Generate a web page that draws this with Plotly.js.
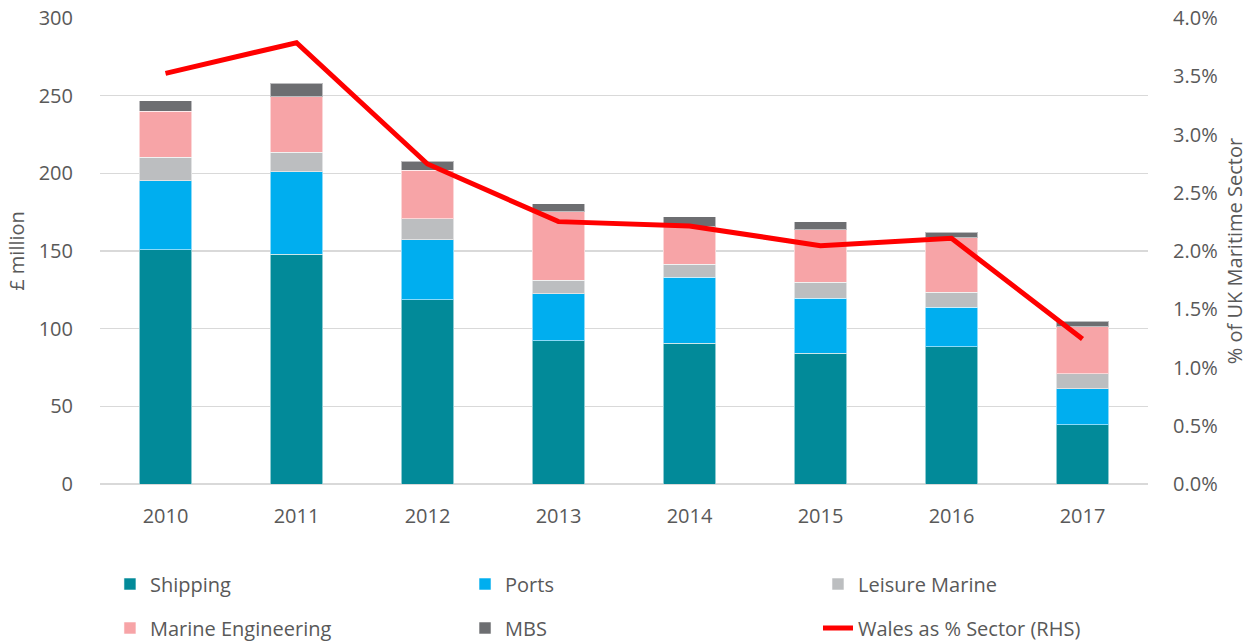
<!DOCTYPE html>
<html>
<head>
<meta charset="utf-8">
<script src="https://cdn.plot.ly/plotly-3.0.1.min.js"></script>
<style>html,body{margin:0;padding:0;background:#fff;}#chart{width:1255px;height:643px;}</style>
</head>
<body>
<div id="chart"></div>
<script>
const years = ["2010","2011","2012","2013","2014","2015","2016","2017"];
const shipping = [150.8, 147.9, 118.5, 92.1, 90.6, 84.1, 88.4, 38.0];
const ports = [44.5, 53.2, 38.8, 30.4, 42.5, 35.6, 25.5, 23.4];
const leisureMarine = [15.0, 12.4, 13.5, 8.6, 8.3, 10.1, 9.7, 9.6];
const marineEngineering = [29.6, 35.8, 31.1, 44.2, 24.2, 33.9, 35.0, 30.3];
const mbs = [6.9, 8.7, 6.0, 5.0, 6.3, 5.2, 3.6, 3.6];
const walesPct = [0.03525, 0.03788, 0.02747, 0.02252, 0.02215, 0.02046, 0.02109, 0.01245];

const FONT = "Open Sans, sans-serif";
const GREY = "#595959";
const barLine = {color: "rgba(255,255,255,0.55)", width: 1};

function barTrace(name, vals, color, legend) {
  return {type: "bar", name: name, x: years, y: vals, legend: legend,
          marker: {color: color, line: barLine}, hoverinfo: "skip"};
}

const traces = [
  barTrace("Shipping", shipping, "#028A99", "legend"),
  barTrace("Ports", ports, "#00AEEF", "legend2"),
  barTrace("Leisure Marine", leisureMarine, "#BCBEC0", "legend3"),
  barTrace("Marine Engineering", marineEngineering, "#F7A4A7", "legend4"),
  barTrace("MBS", mbs, "#6D6E71", "legend5"),
  {type: "scatter", mode: "lines", name: "Wales as % Sector (RHS)", x: years, y: walesPct,
   yaxis: "y2", legend: "legend6", line: {color: "#FF0000", width: 5}, hoverinfo: "skip"}
];

function leg(x, y) {
  return {orientation: "h", xanchor: "left", yanchor: "middle", x: x, y: y,
          bgcolor: "rgba(0,0,0,0)", font: {family: FONT, size: 20, color: GREY}};
}
const row1 = -0.2146, row2 = -0.309;
const col1 = 0.0095, col2 = 0.3483, col3 = 0.6851;

const layout = {
  width: 1255, height: 643,
  margin: {l: 100, r: 107, t: 18, b: 159, autoexpand: false},
  paper_bgcolor: "#fff", plot_bgcolor: "#fff",
  barmode: "stack", bargap: 0.6,
  font: {family: FONT, size: 20, color: GREY},
  showlegend: true,
  legend: leg(col1, row1), legend2: leg(col2, row1), legend3: leg(col3, row1),
  legend4: leg(col1, row2), legend5: leg(col2, row2), legend6: leg(col3, row2),
  xaxis: {type: "category", showgrid: false, zeroline: false, showline: false,
          ticks: "outside", ticklen: 14, tickcolor: "rgba(0,0,0,0)",
          tickfont: {family: FONT, size: 20, color: GREY}},
  yaxis: {range: [0, 300], dtick: 50, showgrid: true, gridcolor: "#D9D9D9", gridwidth: 1.5,
          zeroline: true, zerolinecolor: "#D9D9D9", zerolinewidth: 1.5, showline: false,
          ticks: "outside", ticklen: 22, tickcolor: "rgba(0,0,0,0)",
          tickfont: {family: FONT, size: 20, color: GREY},
          title: {text: "£ million", font: {family: FONT, size: 20, color: GREY}, standoff: 8}},
  yaxis2: {overlaying: "y", side: "right", range: [0, 0.04], dtick: 0.005, tickformat: ".1%",
           showgrid: false, zeroline: false, showline: false,
           ticks: "outside", ticklen: 20, tickcolor: "rgba(0,0,0,0)",
           tickfont: {family: FONT, size: 20, color: GREY},
           title: {text: "% of UK Maritime Sector", font: {family: FONT, size: 20, color: GREY}, standoff: 11}}
};

Plotly.newPlot("chart", traces, layout, {displayModeBar: false, staticPlot: true});
</script>
</body>
</html>
